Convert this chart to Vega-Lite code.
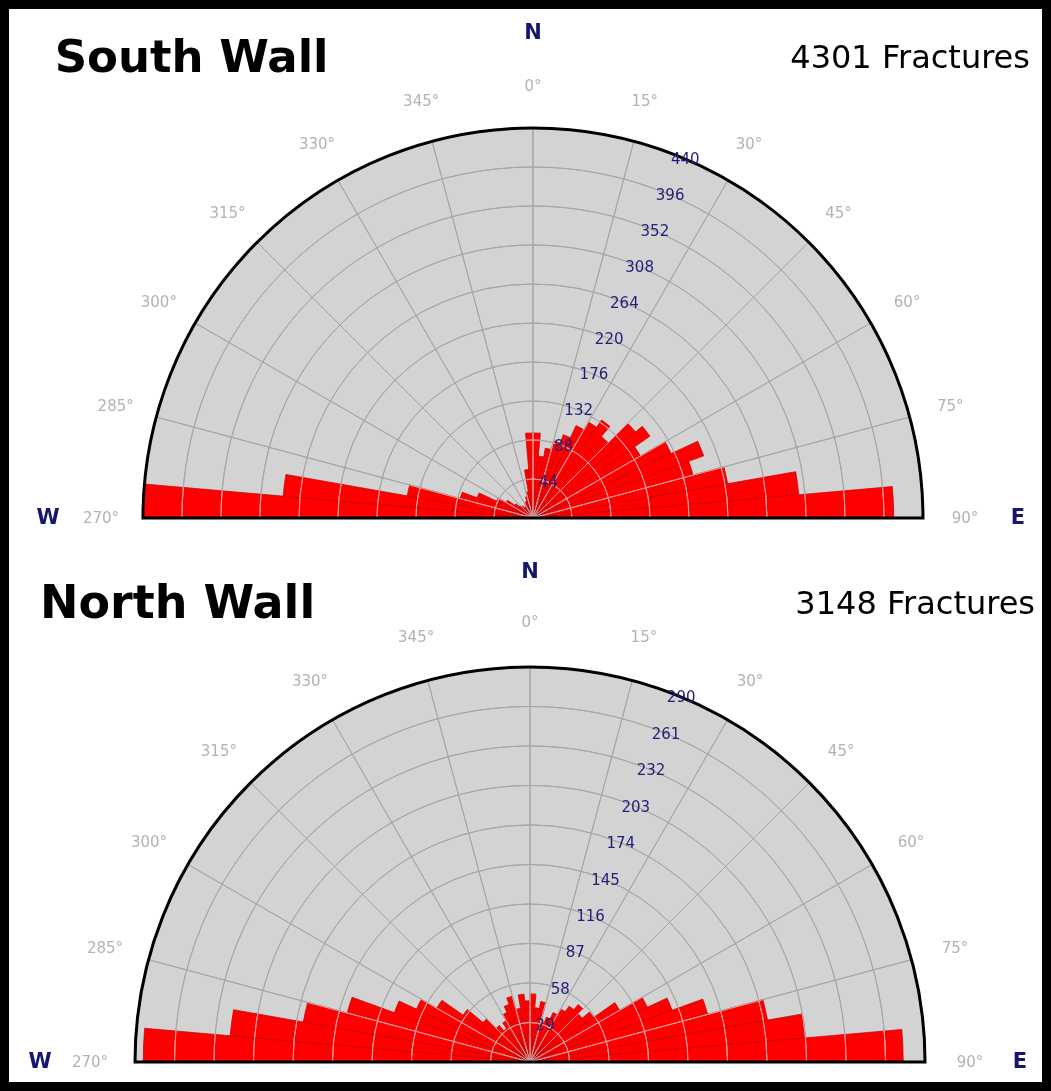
{
  "$schema": "https://vega.github.io/schema/vega-lite/v6.json",
  "width": 1051,
  "height": 1091,
  "autosize": {"type": "fit", "contains": "padding"},
  "padding": 0,
  "background": "white",
  "view": {"stroke": "#000000", "strokeWidth": 18, "fill": "white"},
  "datasets": {
    "south": [
      {"a0": 270, "a1": 275, "n": 440}, {"a0": 275, "a1": 280, "n": 283}, {"a0": 280, "a1": 285, "n": 144},
      {"a0": 285, "a1": 290, "n": 85}, {"a0": 290, "a1": 295, "n": 67}, {"a0": 295, "a1": 300, "n": 45},
      {"a0": 300, "a1": 305, "n": 35}, {"a0": 305, "a1": 310, "n": 25}, {"a0": 310, "a1": 315, "n": 20},
      {"a0": 315, "a1": 320, "n": 18}, {"a0": 320, "a1": 325, "n": 15}, {"a0": 325, "a1": 330, "n": 15},
      {"a0": 330, "a1": 335, "n": 18}, {"a0": 335, "a1": 340, "n": 20}, {"a0": 340, "a1": 345, "n": 25},
      {"a0": 345, "a1": 350, "n": 30}, {"a0": 350, "a1": 355, "n": 55}, {"a0": 355, "a1": 360, "n": 96},
      {"a0": 0, "a1": 5, "n": 96}, {"a0": 5, "a1": 10, "n": 70}, {"a0": 10, "a1": 15, "n": 80},
      {"a0": 15, "a1": 20, "n": 90}, {"a0": 20, "a1": 25, "n": 100}, {"a0": 25, "a1": 30, "n": 115},
      {"a0": 30, "a1": 35, "n": 125}, {"a0": 35, "a1": 40, "n": 135}, {"a0": 40, "a1": 45, "n": 120},
      {"a0": 45, "a1": 50, "n": 151}, {"a0": 50, "a1": 55, "n": 161}, {"a0": 55, "a1": 60, "n": 140},
      {"a0": 60, "a1": 65, "n": 172}, {"a0": 65, "a1": 70, "n": 205}, {"a0": 70, "a1": 75, "n": 187},
      {"a0": 75, "a1": 80, "n": 223}, {"a0": 80, "a1": 85, "n": 301}, {"a0": 85, "a1": 90, "n": 407}
    ],
    "north": [
      {"a0": 270, "a1": 275, "n": 284}, {"a0": 275, "a1": 280, "n": 221}, {"a0": 280, "a1": 285, "n": 169},
      {"a0": 285, "a1": 290, "n": 139}, {"a0": 290, "a1": 295, "n": 106}, {"a0": 295, "a1": 300, "n": 92},
      {"a0": 300, "a1": 305, "n": 79}, {"a0": 305, "a1": 310, "n": 60}, {"a0": 310, "a1": 315, "n": 45},
      {"a0": 315, "a1": 320, "n": 35}, {"a0": 320, "a1": 325, "n": 30}, {"a0": 325, "a1": 330, "n": 35},
      {"a0": 330, "a1": 335, "n": 40}, {"a0": 335, "a1": 340, "n": 45}, {"a0": 340, "a1": 345, "n": 50},
      {"a0": 345, "a1": 350, "n": 40}, {"a0": 350, "a1": 355, "n": 50}, {"a0": 355, "a1": 360, "n": 45},
      {"a0": 0, "a1": 5, "n": 50}, {"a0": 5, "a1": 10, "n": 40}, {"a0": 10, "a1": 15, "n": 45},
      {"a0": 15, "a1": 20, "n": 30}, {"a0": 20, "a1": 25, "n": 35}, {"a0": 25, "a1": 30, "n": 40},
      {"a0": 30, "a1": 35, "n": 45}, {"a0": 35, "a1": 40, "n": 50}, {"a0": 40, "a1": 45, "n": 55},
      {"a0": 45, "a1": 50, "n": 50}, {"a0": 50, "a1": 55, "n": 57}, {"a0": 55, "a1": 60, "n": 76},
      {"a0": 60, "a1": 65, "n": 95}, {"a0": 65, "a1": 70, "n": 111}, {"a0": 70, "a1": 75, "n": 135},
      {"a0": 75, "a1": 80, "n": 177}, {"a0": 80, "a1": 85, "n": 203}, {"a0": 85, "a1": 90, "n": 274}
    ],
    "southTicks": [{"v": 44}, {"v": 88}, {"v": 132}, {"v": 176}, {"v": 220}, {"v": 264}, {"v": 308}, {"v": 352}, {"v": 396}, {"v": 440}],
    "northTicks": [{"v": 29}, {"v": 58}, {"v": 87}, {"v": 116}, {"v": 145}, {"v": 174}, {"v": 203}, {"v": 232}, {"v": 261}, {"v": 290}],
    "spokes": [{"a": 285}, {"a": 300}, {"a": 315}, {"a": 330}, {"a": 345}, {"a": 0}, {"a": 15}, {"a": 30}, {"a": 45}, {"a": 60}, {"a": 75}],
    "compass": [
      {"a": 270, "t": "270°"}, {"a": 285, "t": "285°"}, {"a": 300, "t": "300°"}, {"a": 315, "t": "315°"},
      {"a": 330, "t": "330°"}, {"a": 345, "t": "345°"}, {"a": 0, "t": "0°"}, {"a": 15, "t": "15°"},
      {"a": 30, "t": "30°"}, {"a": 45, "t": "45°"}, {"a": 60, "t": "60°"}, {"a": 75, "t": "75°"}, {"a": 90, "t": "90°"}
    ],
    "cardinal": [{"a": 0, "t": "N"}, {"a": 90, "t": "E"}, {"a": 270, "t": "W"}],
    "walls": [
      {"wall": "South Wall", "count": "4301 Fractures"},
      {"wall": "North Wall", "count": "3148 Fractures"}
    ]
  },
  "resolve": {"scale": {"radius": "independent"}},
  "layer": [
    {
      "layer": [
        {
          "data": {"values": [{}]},
          "mark": {"type": "arc", "fill": "#d3d3d3", "x": {"expr": "width*0.5071"}, "y": {"expr": "height*0.4748"}},
          "encoding": {
            "theta": {"datum": 270, "type": "quantitative", "scale": {"type": "linear", "domain": [0, 360], "range": [0, 6.283185307179586]}},
            "theta2": {"datum": 450},
            "radius": {"datum": 440, "type": "quantitative", "scale": {"type": "linear", "domain": [0, 440], "range": [0, 390]}}
          }
        },
        {
          "data": {"name": "southTicks"},
          "mark": {"type": "arc", "filled": false, "stroke": "#a6a6a6", "strokeWidth": 1, "x": {"expr": "width*0.5071"}, "y": {"expr": "height*0.4748"}},
          "encoding": {
            "theta": {"datum": 270, "type": "quantitative"},
            "theta2": {"datum": 450},
            "radius": {"field": "v", "type": "quantitative"},
            "radius2": {"field": "v"}
          }
        },
        {
          "data": {"name": "spokes"},
          "mark": {"type": "arc", "filled": false, "stroke": "#a6a6a6", "strokeWidth": 1, "x": {"expr": "width*0.5071"}, "y": {"expr": "height*0.4748"}},
          "encoding": {
            "theta": {"field": "a", "type": "quantitative", "stack": null},
            "theta2": {"field": "a"},
            "radius": {"datum": 440, "type": "quantitative"}
          }
        },
        {
          "data": {"name": "south"},
          "mark": {"type": "arc", "fill": "#ff0000", "stroke": "#c40000", "strokeWidth": 0.7, "x": {"expr": "width*0.5071"}, "y": {"expr": "height*0.4748"}},
          "encoding": {
            "theta": {"field": "a0", "type": "quantitative", "stack": null},
            "theta2": {"field": "a1"},
            "radius": {"field": "n", "type": "quantitative"}
          }
        },
        {
          "data": {"name": "southTicks"},
          "mark": {"type": "arc", "filled": false, "stroke": "#9c9c9c", "strokeWidth": 1, "blend": "lighten", "x": {"expr": "width*0.5071"}, "y": {"expr": "height*0.4748"}},
          "encoding": {
            "theta": {"datum": 270, "type": "quantitative"},
            "theta2": {"datum": 450},
            "radius": {"field": "v", "type": "quantitative"},
            "radius2": {"field": "v"}
          }
        },
        {
          "data": {"name": "spokes"},
          "mark": {"type": "arc", "filled": false, "stroke": "#9c9c9c", "strokeWidth": 1, "blend": "lighten", "x": {"expr": "width*0.5071"}, "y": {"expr": "height*0.4748"}},
          "encoding": {
            "theta": {"field": "a", "type": "quantitative", "stack": null},
            "theta2": {"field": "a"},
            "radius": {"datum": 440, "type": "quantitative"}
          }
        },
        {
          "data": {"values": [{}]},
          "mark": {"type": "arc", "filled": false, "stroke": "#000000", "strokeWidth": 3, "x": {"expr": "width*0.5071"}, "y": {"expr": "height*0.4748"}},
          "encoding": {
            "theta": {"datum": 270, "type": "quantitative"},
            "theta2": {"datum": 450},
            "radius": {"datum": 440, "type": "quantitative"}
          }
        },
        {
          "data": {"name": "southTicks"},
          "mark": {"type": "text", "font": "DejaVu Sans", "fontSize": 15, "fill": "#1f1f78", "align": "center", "baseline": "middle", "x": {"expr": "width*0.5071"}, "y": {"expr": "height*0.4748"}},
          "encoding": {
            "theta": {"datum": 23, "type": "quantitative"},
            "radius": {"field": "v", "type": "quantitative"},
            "text": {"field": "v", "type": "quantitative"}
          }
        },
        {
          "data": {"name": "compass"},
          "mark": {"type": "text", "font": "DejaVu Sans", "fontSize": 15, "fill": "#b2b2b2", "align": "center", "baseline": "middle", "radiusOffset": 42, "x": {"expr": "width*0.5071"}, "y": {"expr": "height*0.4748"}},
          "encoding": {
            "theta": {"field": "a", "type": "quantitative", "stack": null},
            "radius": {"datum": 440, "type": "quantitative"},
            "text": {"field": "t", "type": "nominal"}
          }
        },
        {
          "data": {"name": "cardinal"},
          "mark": {"type": "text", "font": "DejaVu Sans", "fontSize": 21, "fontWeight": "bold", "fill": "#16166e", "align": "center", "baseline": "middle", "radiusOffset": 95, "x": {"expr": "width*0.5071"}, "y": {"expr": "height*0.4748"}},
          "encoding": {
            "theta": {"field": "a", "type": "quantitative", "stack": null},
            "radius": {"datum": 440, "type": "quantitative"},
            "text": {"field": "t", "type": "nominal"}
          }
        }
      ]
    },
    {
      "layer": [
        {
          "data": {"values": [{}]},
          "mark": {"type": "arc", "fill": "#d3d3d3", "x": {"expr": "width*0.5043"}, "y": {"expr": "height*0.9734"}},
          "encoding": {
            "theta": {"datum": 270, "type": "quantitative", "scale": {"type": "linear", "domain": [0, 360], "range": [0, 6.283185307179586]}},
            "theta2": {"datum": 450},
            "radius": {"datum": 290, "type": "quantitative", "scale": {"type": "linear", "domain": [0, 290], "range": [0, 395]}}
          }
        },
        {
          "data": {"name": "northTicks"},
          "mark": {"type": "arc", "filled": false, "stroke": "#a6a6a6", "strokeWidth": 1, "x": {"expr": "width*0.5043"}, "y": {"expr": "height*0.9734"}},
          "encoding": {
            "theta": {"datum": 270, "type": "quantitative"},
            "theta2": {"datum": 450},
            "radius": {"field": "v", "type": "quantitative"},
            "radius2": {"field": "v"}
          }
        },
        {
          "data": {"name": "spokes"},
          "mark": {"type": "arc", "filled": false, "stroke": "#a6a6a6", "strokeWidth": 1, "x": {"expr": "width*0.5043"}, "y": {"expr": "height*0.9734"}},
          "encoding": {
            "theta": {"field": "a", "type": "quantitative", "stack": null},
            "theta2": {"field": "a"},
            "radius": {"datum": 290, "type": "quantitative"}
          }
        },
        {
          "data": {"name": "north"},
          "mark": {"type": "arc", "fill": "#ff0000", "stroke": "#c40000", "strokeWidth": 0.7, "x": {"expr": "width*0.5043"}, "y": {"expr": "height*0.9734"}},
          "encoding": {
            "theta": {"field": "a0", "type": "quantitative", "stack": null},
            "theta2": {"field": "a1"},
            "radius": {"field": "n", "type": "quantitative"}
          }
        },
        {
          "data": {"name": "northTicks"},
          "mark": {"type": "arc", "filled": false, "stroke": "#9c9c9c", "strokeWidth": 1, "blend": "lighten", "x": {"expr": "width*0.5043"}, "y": {"expr": "height*0.9734"}},
          "encoding": {
            "theta": {"datum": 270, "type": "quantitative"},
            "theta2": {"datum": 450},
            "radius": {"field": "v", "type": "quantitative"},
            "radius2": {"field": "v"}
          }
        },
        {
          "data": {"name": "spokes"},
          "mark": {"type": "arc", "filled": false, "stroke": "#9c9c9c", "strokeWidth": 1, "blend": "lighten", "x": {"expr": "width*0.5043"}, "y": {"expr": "height*0.9734"}},
          "encoding": {
            "theta": {"field": "a", "type": "quantitative", "stack": null},
            "theta2": {"field": "a"},
            "radius": {"datum": 290, "type": "quantitative"}
          }
        },
        {
          "data": {"values": [{}]},
          "mark": {"type": "arc", "filled": false, "stroke": "#000000", "strokeWidth": 3, "x": {"expr": "width*0.5043"}, "y": {"expr": "height*0.9734"}},
          "encoding": {
            "theta": {"datum": 270, "type": "quantitative"},
            "theta2": {"datum": 450},
            "radius": {"datum": 290, "type": "quantitative"}
          }
        },
        {
          "data": {"name": "northTicks"},
          "mark": {"type": "text", "font": "DejaVu Sans", "fontSize": 15, "fill": "#1f1f78", "align": "center", "baseline": "middle", "x": {"expr": "width*0.5043"}, "y": {"expr": "height*0.9734"}},
          "encoding": {
            "theta": {"datum": 22.5, "type": "quantitative"},
            "radius": {"field": "v", "type": "quantitative"},
            "text": {"field": "v", "type": "quantitative"}
          }
        },
        {
          "data": {"name": "compass"},
          "mark": {"type": "text", "font": "DejaVu Sans", "fontSize": 15, "fill": "#b2b2b2", "align": "center", "baseline": "middle", "radiusOffset": 45, "x": {"expr": "width*0.5043"}, "y": {"expr": "height*0.9734"}},
          "encoding": {
            "theta": {"field": "a", "type": "quantitative", "stack": null},
            "radius": {"datum": 290, "type": "quantitative"},
            "text": {"field": "t", "type": "nominal"}
          }
        },
        {
          "data": {"name": "cardinal"},
          "mark": {"type": "text", "font": "DejaVu Sans", "fontSize": 21, "fontWeight": "bold", "fill": "#16166e", "align": "center", "baseline": "middle", "radiusOffset": 95, "x": {"expr": "width*0.5043"}, "y": {"expr": "height*0.9734"}},
          "encoding": {
            "theta": {"field": "a", "type": "quantitative", "stack": null},
            "radius": {"datum": 290, "type": "quantitative"},
            "text": {"field": "t", "type": "nominal"}
          }
        }
      ]
    },
    {
      "data": {"name": "walls"},
      "transform": [{"filter": "datum.wall === 'South Wall'"}],
      "layer": [
        {
          "mark": {"type": "text", "font": "DejaVu Sans", "fontSize": 45, "fontWeight": "bold", "fill": "#000000", "align": "left", "baseline": "alphabetic", "x": {"expr": "width*0.052"}, "y": {"expr": "height*0.066"}},
          "encoding": {"text": {"field": "wall", "type": "nominal"}}
        },
        {
          "mark": {"type": "text", "font": "DejaVu Sans", "fontSize": 32, "fill": "#000000", "align": "right", "baseline": "alphabetic", "x": {"expr": "width*0.98"}, "y": {"expr": "height*0.0625"}},
          "encoding": {"text": {"field": "count", "type": "nominal"}}
        }
      ]
    },
    {
      "data": {"name": "walls"},
      "transform": [{"filter": "datum.wall === 'North Wall'"}],
      "layer": [
        {
          "mark": {"type": "text", "font": "DejaVu Sans", "fontSize": 46, "fontWeight": "bold", "fill": "#000000", "align": "left", "baseline": "alphabetic", "x": {"expr": "width*0.038"}, "y": {"expr": "height*0.5665"}},
          "encoding": {"text": {"field": "wall", "type": "nominal"}}
        },
        {
          "mark": {"type": "text", "font": "DejaVu Sans", "fontSize": 32, "fill": "#000000", "align": "right", "baseline": "alphabetic", "x": {"expr": "width*0.9848"}, "y": {"expr": "height*0.5628"}},
          "encoding": {"text": {"field": "count", "type": "nominal"}}
        }
      ]
    }
  ]
}
